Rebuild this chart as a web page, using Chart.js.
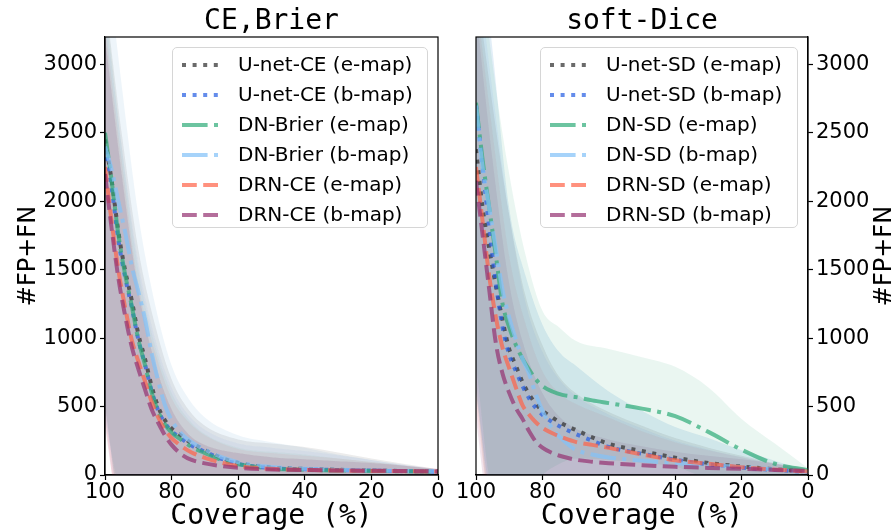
<!DOCTYPE html>
<html><head><meta charset="utf-8">
<script src="https://cdn.jsdelivr.net/npm/chart.js@4"></script>
<style>
body{margin:0;background:#fff;width:896px;height:531px;overflow:hidden;position:relative;font-family:'DejaVu Sans',sans-serif;}
canvas{position:absolute;top:0;}
#cL{left:0;} #cR{left:448px;}
.legend{position:absolute;top:47px;height:181px;border:1px solid #d6d6d6;border-radius:5px;background:rgba(255,255,255,0.8);box-sizing:border-box;}
.row{position:absolute;left:0;height:30px;width:100%;}
.row svg{position:absolute;left:9px;top:6px;}
.row span{position:absolute;left:65px;top:1px;font-size:20px;line-height:24px;color:#000;white-space:nowrap;}
</style></head>
<body>
<canvas id="cL" width="448" height="531"></canvas>
<canvas id="cR" width="448" height="531"></canvas>
<script>
// ---------- data ----------
const coverage = [100,98,96,94,92,90,88,86,84,82,80,77,74,70,65,60,50,40,30,20,10,0];
const bandCoverage = [100,95,90,85,80,75,70,60,50,40,30,20,10,0];
const yTicks = [0,500,1000,1500,2000,2500,3000];

const labelsCE = ['U-net-CE (e-map)','U-net-CE (b-map)','DN-Brier (e-map)','DN-Brier (b-map)','DRN-CE (e-map)','DRN-CE (b-map)'];
const labelsSD = ['U-net-SD (e-map)','U-net-SD (b-map)','DN-SD (e-map)','DN-SD (b-map)','DRN-SD (e-map)','DRN-SD (b-map)'];

// CE,Brier panel mean curves
const ce_unetE = [2450,2150,1780,1500,1280,1030,850,650,495,400,340,285,232,182,125,88,55,45,38,33,29,25];
const ce_unetB = [2400,2100,1720,1450,1230,990,810,615,470,380,320,265,215,170,118,82,50,42,36,32,28,24];
const ce_dnE   = [2500,2150,1760,1470,1240,990,805,605,462,370,310,255,205,160,110,78,48,38,33,30,27,24];
const ce_dnB   = [2400,2230,2000,1780,1530,1340,1140,890,685,510,400,300,240,185,130,92,58,45,38,33,30,26];
const ce_drnE  = [2250,1850,1500,1230,990,830,685,535,420,330,270,210,165,125,90,65,45,38,33,30,28,25];
const ce_drnB  = [2200,1800,1440,1170,940,775,625,480,380,290,220,150,110,85,65,52,40,36,33,31,29,26];

// CE,Brier panel spread bands
const ce_unetE_hi = [3500,2500,1650,1100,700,480,360,260,230,205,165,120,80,42];
const ce_unetE_lo = [500,-300,-400,-350,-300,-250,-200,-160,-150,-130,-110,-80,-40,5];
const ce_unetB_hi = [3400,2400,1550,1000,640,440,330,230,200,175,145,110,75,40];
const ce_unetB_lo = [450,-300,-350,-300,-250,-200,-160,-130,-120,-100,-85,-60,-30,8];
const ce_dnE_hi   = [3500,2400,1500,950,600,410,300,200,170,150,120,95,68,40];
const ce_dnE_lo   = [500,-250,-300,-280,-220,-170,-140,-110,-100,-85,-65,-45,-22,8];
const ce_dnB_hi   = [3900,2850,1900,1250,800,560,420,290,240,200,150,110,72,40];
const ce_dnB_lo   = [400,-100,-100,-200,-250,-200,-200,-200,-170,-120,-90,-50,-20,10];
const ce_drnE_hi  = [3300,2300,1400,900,560,390,290,190,160,140,120,95,68,40];
const ce_drnE_lo  = [400,-350,-350,-300,-220,-170,-130,-100,-90,-75,-60,-40,-15,10];
const ce_drnB_hi  = [3200,2200,1350,820,480,300,220,160,130,115,100,88,68,45];
const ce_drnB_lo  = [350,-350,-400,-350,-250,-180,-120,-80,-60,-50,-40,-30,-15,8];

// soft-Dice panel mean curves
const sd_unetE = [2380,1950,1650,1380,1130,920,800,680,590,520,470,420,375,330,275,228,175,127,88,62,42,25];
const sd_unetB = [2700,2250,1800,1400,1080,880,760,650,560,490,440,385,345,300,250,205,155,112,78,54,37,22];
const sd_dnE   = [2720,2300,1950,1600,1250,1080,950,850,770,700,650,610,585,570,545,525,485,430,315,185,82,35];
const sd_dnB   = [2700,2250,1950,1650,1350,1150,990,850,740,590,470,340,260,185,150,128,105,86,72,58,40,20];
const sd_drnE  = [2250,1850,1450,1150,930,780,640,510,440,385,345,305,275,242,220,198,150,108,82,57,40,25];
const sd_drnB  = [2150,1750,1350,960,740,600,490,410,320,245,200,160,135,112,97,86,72,60,52,45,37,30];

// soft-Dice panel spread bands
const sd_unetE_hi = [3600,2700,1900,1300,950,720,600,460,360,270,200,140,85,35];
const sd_unetE_lo = [600,-300,-300,-250,-150,-80,-40,-40,-40,-40,-30,-20,-5,15];
const sd_unetB_hi = [3800,2800,1900,1250,900,700,580,440,340,250,185,130,80,30];
const sd_unetB_lo = [700,-300,-350,-300,-150,-60,-30,-40,-50,-40,-30,-20,-10,14];
const sd_dnE_hi   = [4000,3000,2200,1600,1200,1080,980,920,860,790,640,410,230,50];
const sd_dnE_lo   = [800,-100,-150,-150,0,80,120,110,90,60,-20,-30,-50,20];
const sd_dnB_hi   = [4200,3100,1950,1450,1100,900,800,610,470,350,270,180,105,30];
const sd_dnB_lo   = [600,-200,-300,-300,-250,-250,-250,-250,-230,-180,-120,-70,-30,10];
const sd_drnE_hi  = [3500,2500,1600,1100,760,600,520,420,320,240,180,130,80,35];
const sd_drnE_lo  = [500,-300,-300,-200,-100,-50,-30,-40,-40,-30,-20,-15,-5,15];
const sd_drnB_hi  = [3400,2300,1400,900,600,430,340,260,210,170,140,115,85,45];
const sd_drnB_lo  = [400,-400,-400,-300,-220,-170,-130,-90,-70,-50,-40,-25,-10,15];

// ---------- styles ----------
const lineColors = ['rgba(48,48,48,0.72)','rgba(34,91,226,0.7)','rgba(45,171,119,0.7)','rgba(131,194,248,0.72)','rgba(255,99,71,0.7)','rgba(148,48,112,0.7)'];
const bandColorsCE = ['rgba(70,70,70,0.1)','rgba(34,91,226,0.05)','rgba(45,171,119,0.06)','rgba(120,180,220,0.13)','rgba(255,99,71,0.1)','rgba(148,48,112,0.15)'];
const bandColorsSD = ['rgba(70,70,70,0.1)','rgba(34,91,226,0.06)','rgba(45,171,119,0.1)','rgba(110,170,215,0.2)','rgba(255,99,71,0.08)','rgba(148,48,112,0.13)'];
const dashes = [[4,6.6],[4,6.6],[25.6,6.4,4,6.4],[25.6,6.4,4,6.4],[14.8,6.4],[14.8,6.4]];

Chart.defaults.font.family = "'DejaVu Sans', sans-serif";
Chart.defaults.color = '#000';

function pts(xs, ys){ return xs.map((x,i)=>({x:x, y:ys[i]})); }

function buildDatasets(lines, his, los, labels, bandColors){
  const ds = [];
  for (let i=0;i<6;i++){
    ds.push({label:labels[i]+' hi', data:pts(bandCoverage, his[i]), fill:'+1', backgroundColor:bandColors[i],
      borderWidth:0, pointRadius:0, cubicInterpolationMode:'monotone', order:30+i});
    ds.push({label:labels[i]+' lo', data:pts(bandCoverage, los[i]), fill:false, borderWidth:0,
      pointRadius:0, cubicInterpolationMode:'monotone', order:30+i});
  }
  for (let i=0;i<6;i++){
    ds.push({label:labels[i], data:pts(coverage, lines[i]), fill:false, borderColor:lineColors[i],
      borderWidth:4, borderDash:dashes[i], borderCapStyle:'butt', pointRadius:0,
      cubicInterpolationMode:'monotone', order:10-i});
  }
  return ds;
}

const framePlugin = {
  id:'frame',
  afterDraw(chart){
    const a = chart.chartArea, c = chart.ctx;
    c.save(); c.strokeStyle='#000'; c.lineWidth=1.2;
    c.strokeRect(a.left, a.top, a.right-a.left, a.bottom-a.top);
    c.restore();
  }
};
const rightTitlePlugin = {
  id:'rtitle',
  afterDraw(chart, args, opts){
    if(!opts || !opts.text) return;
    const c = chart.ctx, a = chart.chartArea;
    c.save();
    c.translate(opts.x, (a.top+a.bottom)/2);
    c.rotate(-Math.PI/2);
    c.font = "24px 'DejaVu Sans'";
    c.fillStyle='#000'; c.textAlign='center'; c.textBaseline='middle';
    c.fillText(opts.text, 0, 0);
    c.restore();
  }
};

function makeChart(id, title, lines, his, los, labels, side, bandColors){
  const grid = {drawOnChartArea:false, drawTicks:true, tickLength:5, color:'#000', tickColor:'#000', tickWidth:1.2};
  const border = {display:true, color:'#000', width:1.2};
  return new Chart(document.getElementById(id), {
    type:'line',
    data:{datasets:buildDatasets(lines, his, los, labels, bandColors)},
    plugins:[framePlugin, rightTitlePlugin],
    options:{
      responsive:false, animation:false, devicePixelRatio:1,
      layout:{padding: side==='left' ? {left:0,right:10,top:0,bottom:0} : {left:28,right:0,top:0,bottom:0}},
      plugins:{
        legend:{display:false}, tooltip:{enabled:false},
        title:{display:true, text:title, fullSize:false, color:'#000',
          font:{family:"'DejaVu Sans Mono', monospace", size:28, weight:'normal', lineHeight:31/28},
          padding:{top:6,bottom:0}},
        rtitle: side==='right' ? {text:'#FP+FN', x:437} : {}
      },
      scales:{
        x:{type:'linear', reverse:true, min:0, max:100,
          ticks:{stepSize:20, font:{size:21}, padding:0, maxRotation:0, autoSkip:false, callback:v=>String(v)},
          grid:grid, border:border,
          title:{display:true, text:'Coverage (%)', font:{family:"'DejaVu Sans Mono', monospace", size:28, lineHeight:1}, padding:{top:0,bottom:0}},
          afterFit(s){ s.height = 56; }
        },
        y:{type:'linear', position:side, min:0, max:3200,
          ticks:{stepSize:500, font:{size:21}, padding:3, callback:v=>String(v)},
          afterBuildTicks(s){ s.ticks = yTicks.map(v=>({value:v})); },
          grid:grid, border:border,
          title:{display: side==='left', text:'#FP+FN', font:{size:24, lineHeight:1.2}, padding:{top:14,bottom:0}},
          afterFit(s){ s.width = side==='left' ? 105 : 88; }
        }
      }
    }
  });
}

makeChart('cL','CE,Brier',
  [ce_unetE,ce_unetB,ce_dnE,ce_dnB,ce_drnE,ce_drnB],
  [ce_unetE_hi,ce_unetB_hi,ce_dnE_hi,ce_dnB_hi,ce_drnE_hi,ce_drnB_hi],
  [ce_unetE_lo,ce_unetB_lo,ce_dnE_lo,ce_dnB_lo,ce_drnE_lo,ce_drnB_lo], labelsCE, 'left', bandColorsCE);
makeChart('cR','soft-Dice',
  [sd_unetE,sd_unetB,sd_dnE,sd_dnB,sd_drnE,sd_drnB],
  [sd_unetE_hi,sd_unetB_hi,sd_dnE_hi,sd_dnB_hi,sd_drnE_hi,sd_drnB_hi],
  [sd_unetE_lo,sd_unetB_lo,sd_dnE_lo,sd_dnB_lo,sd_drnE_lo,sd_drnB_lo], labelsSD, 'right', bandColorsSD);

// ---------- legends (HTML) ----------
function makeLegend(labels, left, width){
  const box = document.createElement('div');
  box.className='legend'; box.style.left=left+'px'; box.style.width=width+'px';
  labels.forEach((lab,i)=>{
    const row = document.createElement('div');
    row.className='row'; row.style.top=(3+30*i)+'px';
    const svgNS='http://www.w3.org/2000/svg';
    const svg=document.createElementNS(svgNS,'svg');
    svg.setAttribute('width','44'); svg.setAttribute('height','16');
    const ln=document.createElementNS(svgNS,'line');
    ln.setAttribute('x1','0'); ln.setAttribute('y1','8'); ln.setAttribute('x2','42'); ln.setAttribute('y2','8');
    ln.setAttribute('stroke',lineColors[i]); ln.setAttribute('stroke-width','4');
    ln.setAttribute('stroke-dasharray',dashes[i].join(' '));
    svg.appendChild(ln); row.appendChild(svg);
    const sp=document.createElement('span'); sp.textContent=lab; row.appendChild(sp);
    box.appendChild(row);
  });
  document.body.appendChild(box);
}
makeLegend(labelsCE, 172, 256);
makeLegend(labelsSD, 540, 258);
</script>
</body></html>
